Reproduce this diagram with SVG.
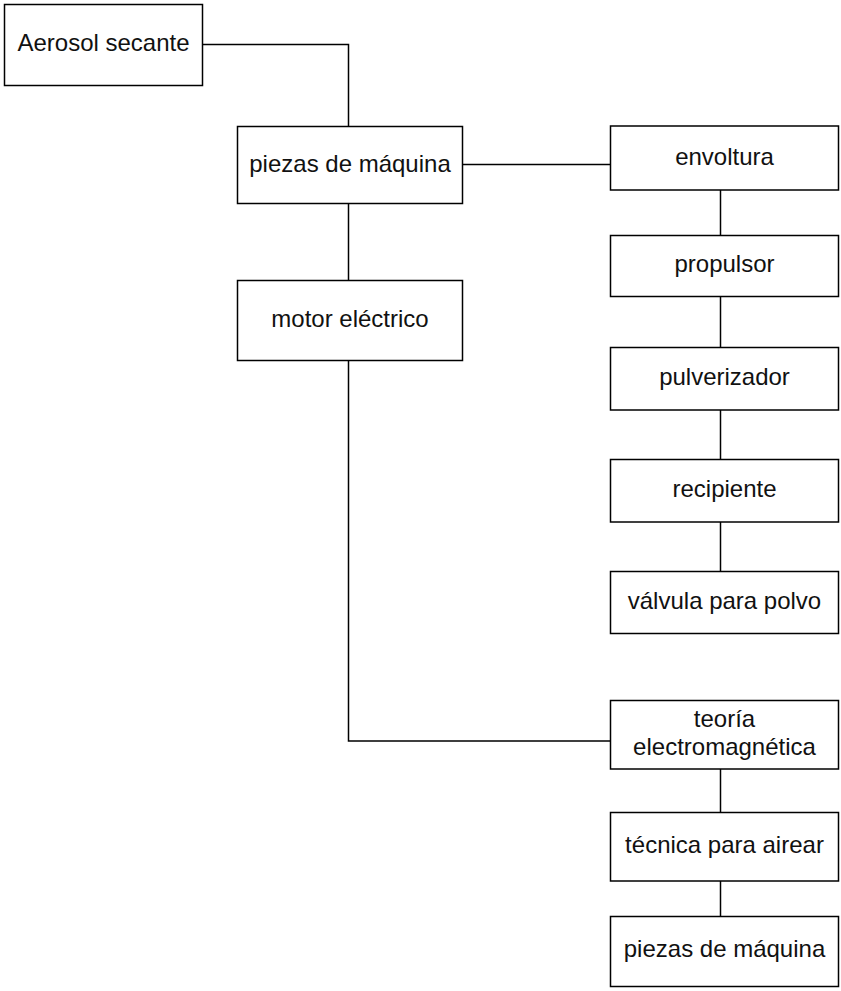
<svg xmlns="http://www.w3.org/2000/svg" width="841" height="991" viewBox="0 0 841 991">
<style>
.box{fill:#fff;stroke:#000;stroke-width:1.5}
.lbl{font-family:"Liberation Sans",Arial,sans-serif;font-size:24px;fill:#111;text-anchor:middle}
.conn{fill:none;stroke:#000;stroke-width:1.5}
</style>
<rect width="841" height="991" fill="#fff"/>
<g id="connectors">
<path class="conn" d="M202.5 44.5H348.5V126.5"/>
<path class="conn" d="M348.5 203.5V280.5"/>
<path class="conn" d="M348.5 360.5V741H610.5"/>
<path class="conn" d="M462.5 164.5H610.5"/>
<path class="conn" d="M720.5 190V235.5"/>
<path class="conn" d="M720.5 296.5V347.5"/>
<path class="conn" d="M720.5 410V459.5"/>
<path class="conn" d="M720.5 522V571.5"/>
<path class="conn" d="M720.5 769V812.5"/>
<path class="conn" d="M720.5 881V916.5"/>
</g>
<g id="aerosol"><rect class="box" x="4.5" y="4.5" width="198" height="81"/><text class="lbl" x="103.5" y="51">Aerosol secante</text></g>
<g id="piezas1"><rect class="box" x="237.5" y="126.5" width="225" height="77"/><text class="lbl" x="350" y="171.5">piezas de máquina</text></g>
<g id="motor"><rect class="box" x="237.5" y="280.5" width="225" height="80"/><text class="lbl" x="350" y="327">motor eléctrico</text></g>
<g id="envoltura"><rect class="box" x="610.5" y="126" width="228" height="64"/><text class="lbl" x="724.5" y="164.5">envoltura</text></g>
<g id="propulsor"><rect class="box" x="610.5" y="235.5" width="228" height="61"/><text class="lbl" x="724.5" y="272">propulsor</text></g>
<g id="pulverizador"><rect class="box" x="610.5" y="347.5" width="228" height="62.5"/><text class="lbl" x="724.5" y="384.5">pulverizador</text></g>
<g id="recipiente"><rect class="box" x="610.5" y="459.5" width="228" height="62.5"/><text class="lbl" x="724.5" y="497">recipiente</text></g>
<g id="valvula"><rect class="box" x="610.5" y="571.5" width="228" height="62"/><text class="lbl" x="724.5" y="609">válvula para polvo</text></g>
<g id="teoria"><rect class="box" x="610.5" y="700.5" width="228" height="68.5"/><text class="lbl" x="724.5" y="727">teoría</text><text class="lbl" x="724.5" y="755">electromagnética</text></g>
<g id="tecnica"><rect class="box" x="610.5" y="812.5" width="228" height="68.5"/><text class="lbl" x="724.5" y="853">técnica para airear</text></g>
<g id="piezas2"><rect class="box" x="610.5" y="916.5" width="228" height="70"/><text class="lbl" x="724.5" y="957">piezas de máquina</text></g>
</svg>
